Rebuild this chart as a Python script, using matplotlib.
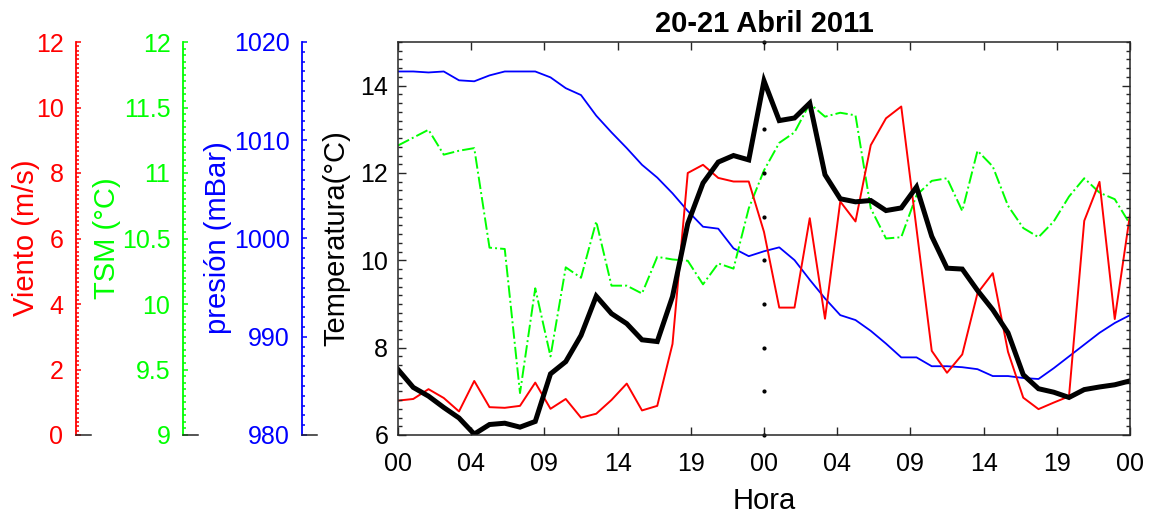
import numpy as np
import matplotlib.pyplot as plt
from matplotlib.ticker import MultipleLocator, FormatStrFormatter

plt.rcParams['font.family'] = ['Liberation Sans', 'DejaVu Sans']

# Hourly series, 20-21 April 2011 (hour 0 .. 48)
hours = np.arange(49)
temperatura = [7.50, 7.09, 6.89, 6.63, 6.39, 6.02, 6.24, 6.27, 6.18, 6.31,
               7.40, 7.68, 8.28, 9.18, 8.78, 8.55, 8.18, 8.14, 9.17, 10.84,
               11.77, 12.25, 12.40, 12.30, 14.11, 13.20, 13.26, 13.60, 11.96, 11.41,
               11.34, 11.37, 11.14, 11.20, 11.68, 10.55, 9.82, 9.80, 9.31, 8.87,
               8.34, 7.38, 7.06, 6.98, 6.86, 7.04, 7.10, 7.15, 7.24]
viento = [1.05, 1.10, 1.40, 1.13, 0.72, 1.65, 0.85, 0.83, 0.89, 1.60,
          0.80, 1.10, 0.53, 0.65, 1.07, 1.57, 0.75, 0.89, 2.78, 8.00,
          8.25, 7.85, 7.74, 7.74, 6.20, 3.89, 3.89, 6.62, 3.55, 7.13,
          6.52, 8.85, 9.67, 10.03, 6.30, 2.57, 1.90, 2.46, 4.33, 4.94,
          2.54, 1.14, 0.79, 0.99, 1.18, 6.54, 7.73, 3.54, 6.73]
tsm = [11.21, 11.27, 11.33, 11.14, 11.17, 11.19, 10.43, 10.42, 9.32, 10.12,
       9.60, 10.28, 10.20, 10.63, 10.14, 10.14, 10.08, 10.36, 10.34, 10.33,
       10.15, 10.31, 10.27, 10.73, 11.02, 11.23, 11.31, 11.53, 11.43, 11.46,
       11.44, 10.73, 10.50, 10.51, 10.83, 10.94, 10.96, 10.71, 11.17, 11.05,
       10.75, 10.58, 10.51, 10.63, 10.82, 10.96, 10.85, 10.80, 10.61]
presion = [1017.0, 1017.0, 1016.9, 1017.0, 1016.1, 1016.0, 1016.6, 1017.0, 1017.0, 1017.0,
           1016.4, 1015.3, 1014.6, 1012.5, 1010.8, 1009.2, 1007.5, 1006.2, 1004.6, 1002.8,
           1001.2, 1001.0, 999.0, 998.2, 998.7, 999.1, 997.8, 995.8, 993.9, 992.2,
           991.7, 990.6, 989.3, 987.9, 987.9, 987.0, 987.0, 986.9, 986.7, 986.0,
           986.0, 985.8, 985.7, 986.8, 988.0, 989.2, 990.4, 991.4, 992.2]

tick_hours = np.linspace(0, 48, 11)
tick_labels = [f"{int(h % 24):02d}" for h in tick_hours]
midnight = 24
dot_levels = np.arange(6, 16)

W, H = 1152, 517
AXC = '#262626'
TICK_FS = 18
fig = plt.figure(figsize=(W / 100, H / 100), dpi=100)


def box(x0, x1, y0=42, y1=435):
    return [x0 / W, 1 - y1 / H, (x1 - x0) / W, (y1 - y0) / H]


# main temperature axes
ax = fig.add_axes(box(398, 1130))
ax.set_xlim(0, 48)
ax.set_ylim(6, 15)


def overlay(ylim):
    o = ax.twinx()
    o.set_ylim(ylim)
    o.set_axis_off()
    return o


overlay((980, 1020)).plot(hours, presion, color='blue', lw=1.3)
overlay((9, 12)).plot(hours, tsm, color='#00ff00', lw=1.4, ls='-.')
overlay((0, 12)).plot(hours, viento, color='red', lw=1.4)

ax.set_zorder(5)
ax.patch.set_visible(False)
ax.plot(hours, temperatura, color='black', lw=3.6, solid_joinstyle='miter')
ax.plot(np.full(len(dot_levels), midnight), dot_levels, 'k.', ms=4, clip_on=False)

ax.set_xticks(tick_hours)
ax.set_xticklabels(tick_labels)
ax.yaxis.set_major_locator(MultipleLocator(2))
ax.yaxis.set_minor_locator(MultipleLocator(0.2))
ax.tick_params(which='both', direction='in', top=True, right=True, colors=AXC,
               labelcolor='black', labelsize=TICK_FS, width=1)
ax.tick_params(which='major', length=6)
ax.tick_params(which='minor', length=3)
ax.tick_params(axis='x', pad=12)
ax.tick_params(axis='y', pad=7)
for s in ax.spines.values():
    s.set_color(AXC)
    s.set_linewidth(1.1)
ax.set_xlabel('Hora', fontsize=21, labelpad=8)
ax.set_title('20-21 Abril 2011', fontsize=21, fontweight='bold', pad=7)
fig.text(336 / W, 1 - 238 / H, 'Temperatura(°C)', rotation=90, ha='center',
         va='center', fontsize=21)


def scale_axis(x, ylim, major, minor, color, label, label_x):
    a = fig.add_axes(box(x, x + 15))
    a.set_ylim(ylim)
    a.set_xticks([])
    a.spines['top'].set_visible(False)
    a.spines['right'].set_visible(False)
    a.spines['left'].set_color(color)
    a.spines['left'].set_linewidth(1.3)
    a.spines['bottom'].set_color(AXC)
    a.spines['bottom'].set_linewidth(1.1)
    a.patch.set_visible(False)
    a.yaxis.set_major_locator(MultipleLocator(major))
    a.yaxis.set_minor_locator(MultipleLocator(minor))
    a.yaxis.set_major_formatter(FormatStrFormatter('%g'))
    a.tick_params(axis='y', which='both', direction='in', colors=color,
                  labelsize=TICK_FS, pad=9, width=1.1)
    a.tick_params(axis='y', which='major', length=3.5)
    a.tick_params(axis='y', which='minor', length=2.2)
    fig.text(label_x / W, 1 - 238 / H, label, color=color, rotation=90,
             ha='center', va='center', fontsize=21)
    return a


scale_axis(76, (0, 12), 2, 2 / 15, 'red', 'Viento (m/s)', 26)
scale_axis(183, (9, 12), 0.5, 0.05, '#00ff00', 'TSM (°C)', 107)
scale_axis(302, (980, 1020), 10, 1, 'blue', 'presión (mBar)', 218)

fig.savefig('out.png', dpi=100)
